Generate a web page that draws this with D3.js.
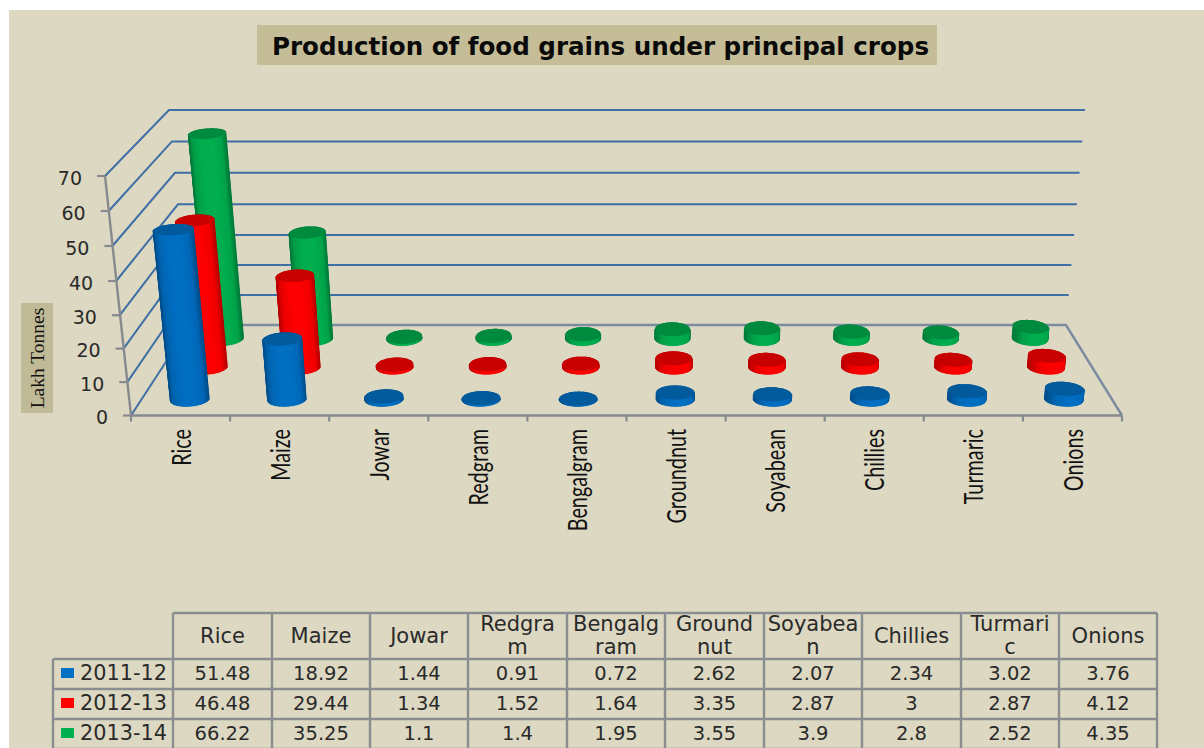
<!DOCTYPE html>
<html>
<head>
<meta charset="utf-8">
<script src="https://cdn.jsdelivr.net/npm/d3@7/dist/d3.min.js"></script>
<style>
html,body{margin:0;padding:0;background:#fff;overflow:hidden}
svg{display:block}
</style>
</head>
<body>
<svg id="c" width="1204" height="748"></svg>
<script>
const titleText = "Production of food grains under principal crops";
const axisTitle = "Lakh Tonnes";
const categories = ["Rice","Maize","Jowar","Redgram","Bengalgram","Groundnut","Soyabean","Chillies","Turmaric","Onions"];
const headerLines = [["Rice"],["Maize"],["Jowar"],["Redgra","m"],["Bengalg","ram"],["Ground","nut"],["Soyabea","n"],["Chillies"],["Turmari","c"],["Onions"]];
const seriesNames = ["2011-12","2012-13","2013-14"];
const values2011 = [51.48,18.92,1.44,0.91,0.72,2.62,2.07,2.34,3.02,3.76];
const values2012 = [46.48,29.44,1.34,1.52,1.64,3.35,2.87,3,2.87,4.12];
const values2013 = [66.22,35.25,1.1,1.4,1.95,3.55,3.9,2.8,2.52,4.35];
const seriesValues = [values2011,values2012,values2013];
const yTicks = [0,10,20,30,40,50,60,70];
const brightColors = ["#0070c4","#ff0000","#00b050"];
const edgeColors = ["#004f8c","#b80000","#007c3a"];
const topColors = ["#005a9c","#c80000","#008a3e"];
const rowDepths = [0.178,0.533,0.85];
const colEdges = [173,272,370,468,567,665,764,862,961,1059,1157];
const rowEdges = [613,659,689,719,749];

const svg = d3.select("#c");
const INK = "#2a2a2a", UI = "'DejaVu Sans',Verdana,sans-serif";

svg.append("rect").attr("x",9).attr("y",10).attr("width",1195).attr("height",738).attr("fill","#ddd8c2");

// title
svg.append("rect").attr("x",257).attr("y",25).attr("width",680).attr("height",40).attr("fill","#c4bd97");
svg.append("text").attr("x",600.5).attr("y",54.5).attr("text-anchor","middle")
  .attr("font-family",UI).attr("font-weight","bold").attr("font-size",25).attr("fill","#0a0a0a")
  .attr("textLength",657).attr("lengthAdjust","spacingAndGlyphs").text(titleText);

// projection of the 3-D box
const yFront = d3.scaleLinear().domain([0,35,70]).range([415.5,298.5,176]);
const yBack  = d3.scaleLinear().domain([0,35,70]).range([325,220,110]);
const xLF = d3.scaleLinear().domain([0,70]).range([131,105]);
const xRF = d3.scaleLinear().domain([0,70]).range([1122,1148]);
const xLB = d3.scaleLinear().domain([0,70]).range([190,169]);
const xRB = d3.scaleLinear().domain([0,70]).range([1066,1085]);
const uScale = d3.scaleLinear().domain([0,categories.length]).range([0,1]);
function project(u,d,v){
  const l = xLF(v)+(xLB(v)-xLF(v))*d, r = xRF(v)+(xRB(v)-xRF(v))*d;
  return [l+uScale(u)*(r-l), yFront(v)+(yBack(v)-yFront(v))*d];
}
const line = d3.line();

// wall gridlines
const grid = svg.append("g").attr("fill","none");
yTicks.forEach(v=>{
  if(v===0) return;
  grid.append("path").attr("d",line([project(0,0,v),project(0,1,v),project(10,1,v)]))
    .attr("stroke","#3f6fa5").attr("stroke-width",2);
});
// floor
grid.append("path").attr("d",line([project(0,0,0),project(0,1,0)])).attr("stroke","#3f6fa5").attr("stroke-width",2);
grid.append("path").attr("d",line([project(0,1,0),project(10,1,0),project(10,0,0)])).attr("stroke","#7b8ba0").attr("stroke-width",2.4);
grid.append("path").attr("d",line([project(0,0,0),project(10,0,0)])).attr("stroke","#868a8e").attr("stroke-width",2.4);
grid.append("path").attr("d",line([project(0,0,70),project(0,0,0)])).attr("stroke","#868a8e").attr("stroke-width",2.4);

// ticks
yTicks.forEach(v=>{
  const [x,y] = project(0,0,v);
  svg.append("line").attr("x1",x-8).attr("x2",x).attr("y1",y).attr("y2",y).attr("stroke","#868a8e").attr("stroke-width",2.2);
  svg.append("text").attr("x",x-23).attr("y",y+1.5).attr("text-anchor","end").attr("dominant-baseline","central")
    .attr("font-family",UI).attr("font-size",19).attr("fill",INK).text(v);
});
d3.range(categories.length+1).forEach(i=>{
  const [x,y] = project(i,0,0);
  svg.append("line").attr("x1",x).attr("x2",x).attr("y1",y).attr("y2",y+6).attr("stroke","#868a8e").attr("stroke-width",2.2);
});
categories.forEach((c,i)=>{
  const [x] = project(i+.5,0,0);
  svg.append("text").attr("transform",`translate(${x},429) rotate(-90) scale(.76,1)`)
    .attr("text-anchor","end").attr("dominant-baseline","central")
    .attr("font-family","Lato,'Liberation Sans',sans-serif").attr("font-size",26).attr("fill","#111").text(c);
});

// axis title
svg.append("rect").attr("x",21).attr("y",303).attr("width",32).attr("height",110).attr("fill","#c0ba96");
svg.append("text").attr("transform","translate(37,358) rotate(-90)").attr("text-anchor","middle").attr("dominant-baseline","central")
  .attr("font-family","'Liberation Serif',serif").attr("font-size",19.5).attr("fill","#111").text(axisTitle);

// cylinders
const RU = 0.197, RD = 0.078, TOP_INSET = 0.5;
const angles = d3.range(0,73).map(i=>i/72*2*Math.PI);
function ring(u,d,v){ return angles.map(t=>project(u+RU*Math.cos(t),d-RD*Math.sin(t),v)); }
const barsG = svg.append("g");
[2,1,0].forEach(s=>{
  const mix = d3.interpolateRgb(edgeColors[s],brightColors[s]);
  const shade = d3.scaleLinear().domain([-1,-.6,-.1,.5,.85,1])
    .range([edgeColors[s],mix(.75),brightColors[s],brightColors[s],mix(.8),edgeColors[s]]);
  const rowG = barsG.append("g");
  categories.forEach((c,i)=>{
    const v = seriesValues[s][i]-TOP_INSET, u = i+.5, d = rowDepths[s];
    const g = rowG.append("g");
    const hull = d3.polygonHull(ring(u,d,0).concat(ring(u,d,v)));
    g.append("path").attr("d",line(hull)+"Z").attr("fill",edgeColors[s]);
    const N = 40;
    d3.range(N).forEach(k=>{
      const t0 = Math.PI*(k/N), t1 = Math.PI*((k+1)/N);
      const P = (t,val)=>project(u+RU*Math.cos(t),d-RD*Math.sin(t),val);
      const col = shade(Math.cos((t0+t1)/2));
      g.append("path").attr("d",line([P(t0,0),P(t1,0),P(t1,v),P(t0,v)])+"Z")
        .attr("fill",col).attr("stroke",col).attr("stroke-width",.5);
    });
    g.append("path").attr("d",line(ring(u,d,v))+"Z").attr("fill",topColors[s]);
  });
});

// data table
const tb = svg.append("g");
const BORDER = "#8b8e91";
const lineAt = (x1,y1,x2,y2)=>tb.append("line").attr("x1",x1).attr("y1",y1).attr("x2",x2).attr("y2",y2).attr("stroke",BORDER).attr("stroke-width",2.4);
lineAt(colEdges[0],rowEdges[0],colEdges[10],rowEdges[0]);
rowEdges.slice(1).forEach(y=>lineAt(53,y,colEdges[10],y));
colEdges.forEach(x=>lineAt(x,rowEdges[0],x,748));
lineAt(53,rowEdges[1],53,748);
const cellText = (x,y,t,size)=>tb.append("text").attr("x",x).attr("y",y).attr("text-anchor","middle").attr("dominant-baseline","central")
  .attr("font-family",UI).attr("font-size",size).attr("fill",INK).text(t);
headerLines.forEach((ls,i)=>{
  const cx = (colEdges[i]+colEdges[i+1])/2;
  if(ls.length===1) cellText(cx,636,ls[0],21);
  else { cellText(cx,624,ls[0],21); cellText(cx,647,ls[1],21); }
});
seriesNames.forEach((n,s)=>{
  const cy = (rowEdges[s+1]+rowEdges[s+2])/2-1;
  tb.append("rect").attr("x",61).attr("y",cy-5).attr("width",13).attr("height",10).attr("fill",brightColors[s]);
  tb.append("text").attr("x",80).attr("y",cy).attr("dominant-baseline","central").attr("font-family",UI).attr("font-size",20.8).attr("fill",INK).text(n);
  seriesValues[s].forEach((v,i)=>cellText((colEdges[i]+colEdges[i+1])/2,cy,String(v),19.5));
});
</script>
</body>
</html>
